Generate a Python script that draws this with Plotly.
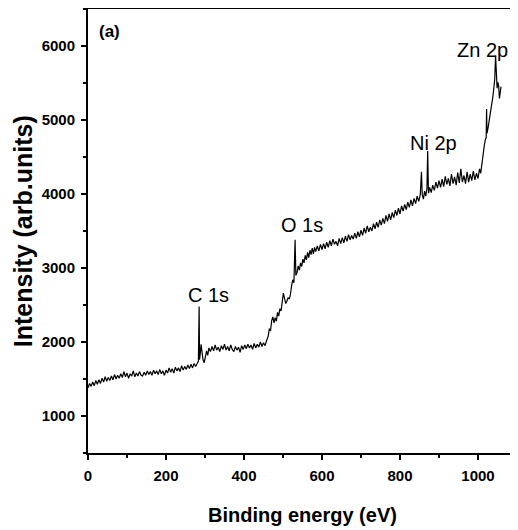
import plotly.graph_objects as go

energy = [0,4,8,12,16,20,24,28,32,36,40,44,48,52,56,60,64,68,72,76,80,84,88,92,96,
          100,104,108,112,116,120,124,128,132,136,140,144,148,152,156,160,164,168,172,176,
          180,184,188,192,196,200,204,208,212,216,220,224,228,232,236,240,244,248,252,256,
          260,264,268,272,276,280,283,285,286,288,290,292,295,298,301,304,307,310,314,318,
          322,326,330,334,338,342,346,350,354,358,362,366,370,374,378,382,386,390,394,398,
          402,406,410,414,418,422,426,430,434,438,442,446,450,454,458,462,465,468,471,474,
          477,480,483,486,489,492,495,498,501,504,507,510,513,516,519,522,525,528,531,533,
          536,539,542,545,548,551,554,557,560,563,566,569,572,575,578,581,584,588,592,596,
          600,604,608,612,616,620,624,628,632,636,640,644,648,652,656,660,664,668,672,676,
          680,684,688,692,696,700,704,708,712,716,720,724,728,732,736,740,744,748,752,756,
          760,764,768,772,776,780,784,788,792,796,800,804,808,812,816,820,824,828,832,836,
          840,844,848,852,855,857,860,863,866,869,871,873,876,880,884,888,892,896,900,904,
          908,912,916,920,924,928,932,936,940,944,948,952,956,960,964,968,972,976,980,984,
          988,992,996,1000,1004,1007,1010,1013,1016,1019,1021,1022,1023,1026,1029,1032,1035,
          1038,1041,1043,1045,1047,1049,1051,1053,1055,1057,1059]

intensity = [1380,1440,1400,1460,1410,1480,1430,1490,1440,1510,1460,1530,1470,1520,1480,1540,1490,1560,1500,1550,1510,1570,1520,1600,1530,
             1580,1510,1570,1540,1610,1530,1580,1540,1600,1550,1540,1590,1550,1610,1560,1600,1550,1620,1570,1610,
             1560,1630,1570,1610,1550,1620,1580,1650,1590,1640,1580,1660,1610,1650,1600,1680,1620,1670,1630,1690,
             1640,1700,1650,1710,1670,1710,1740,2480,1760,1850,1970,1880,1760,1720,1800,1880,1820,1920,1870,1940,
             1880,1960,1890,1930,1870,1950,1900,1970,1890,1940,1880,1960,1900,1870,1940,1890,1930,1860,1950,1900,
             1960,1910,1970,1920,1960,1900,1980,1920,1970,1930,2000,1940,1990,1950,2020,2080,2180,2150,2290,2340,
             2260,2330,2280,2400,2350,2450,2420,2560,2660,2590,2520,2550,2600,2580,2640,2760,2840,2800,3380,2900,
             2940,3030,2970,3070,3020,3120,3070,3170,3110,3210,3140,3240,3180,3270,3190,3280,3220,3300,3230,3320,
             3250,3330,3260,3350,3280,3370,3300,3390,3320,3360,3300,3400,3330,3410,3340,3430,3360,3450,3380,3440,
             3390,3470,3400,3490,3420,3510,3440,3540,3470,3570,3490,3550,3500,3600,3530,3620,3550,3650,3580,3670,
             3600,3710,3630,3730,3650,3750,3680,3780,3710,3810,3730,3840,3770,3860,3790,3890,3820,3920,3840,3940,
             3870,3970,3900,3990,4300,3990,3930,4040,3970,4070,4580,4010,4090,4020,4120,4050,4160,4080,4180,4090,
             4200,4100,4240,4130,4210,4110,4270,4140,4230,4120,4290,4150,4340,4160,4250,4140,4300,4160,4270,4180,
             4310,4190,4280,4210,4340,4280,4420,4560,4650,4740,4760,5150,4820,4900,5000,5080,5220,
             5310,5450,5560,5870,5520,5430,5510,5460,5290,5420,5450]

peak_labels = ["C 1s", "O 1s", "Ni 2p", "Zn 2p"]
peak_label_x = [310, 549, 885, 1012]
peak_label_y = [2631, 3577, 4686, 5942]

x_ticks = [0, 200, 400, 600, 800, 1000]
y_ticks = [1000, 2000, 3000, 4000, 5000, 6000]

FONT = "Liberation Sans"

fig = go.Figure()
fig.add_trace(go.Scatter(x=energy, y=intensity, mode="lines",
                         line=dict(color="black", width=1.2), showlegend=False))

for t, xx, yy in zip(peak_labels, peak_label_x, peak_label_y):
    fig.add_annotation(x=xx, y=yy, text=t, showarrow=False,
                       xanchor="center", yanchor="middle",
                       font=dict(family=FONT, size=20, color="black"))

fig.add_annotation(x=23, y=6198, text="<b>(a)</b>", showarrow=False, xanchor="left",
                   yanchor="middle", font=dict(family=FONT, size=17, color="black"))

# axis titles placed as paper annotations (plot area 429 x 444 px)
fig.add_annotation(xref="paper", yref="paper", x=0.5, y=-0.14, text="<b>Binding energy (eV)</b>",
                   xanchor="center", yanchor="middle",
                   showarrow=False, font=dict(family=FONT, size=20, color="black"))
fig.add_annotation(xref="paper", yref="paper", x=-0.151, y=0.5, text="<b>Intensity (arb.units)</b>",
                   xanchor="center", yanchor="middle",
                   textangle=-90, showarrow=False, font=dict(family=FONT, size=25, color="black"))

axis_common = dict(showgrid=False, zeroline=False, showline=True, linecolor="black",
                   linewidth=2, mirror=True, ticks="outside", ticklen=5, tickwidth=2,
                   tickcolor="black", automargin=False,
                   tickfont=dict(family=FONT, size=15, color="black"))

# page body has an 8px margin, so the figure is sized to fit the window
fig.update_layout(
    width=510, height=522,
    margin=dict(l=80, r=1, t=1, b=77),
    paper_bgcolor="white", plot_bgcolor="white",
    xaxis=dict(range=[0, 1100], tickvals=x_ticks,
               ticktext=[f"<b>{v}</b>" for v in x_ticks],
               ticklabelstandoff=3,
               minor=dict(dtick=100, tick0=0, ticks="outside", ticklen=3, tickwidth=2, tickcolor="black"),
               **axis_common),
    yaxis=dict(range=[500, 6500], tickvals=y_ticks,
               ticktext=[f"<b>{v}</b>" for v in y_ticks],
               ticklabelstandoff=3,
               minor=dict(dtick=500, tick0=500, ticks="outside", ticklen=3, tickwidth=2, tickcolor="black"),
               **axis_common),
)

fig.write_html("out.html")
